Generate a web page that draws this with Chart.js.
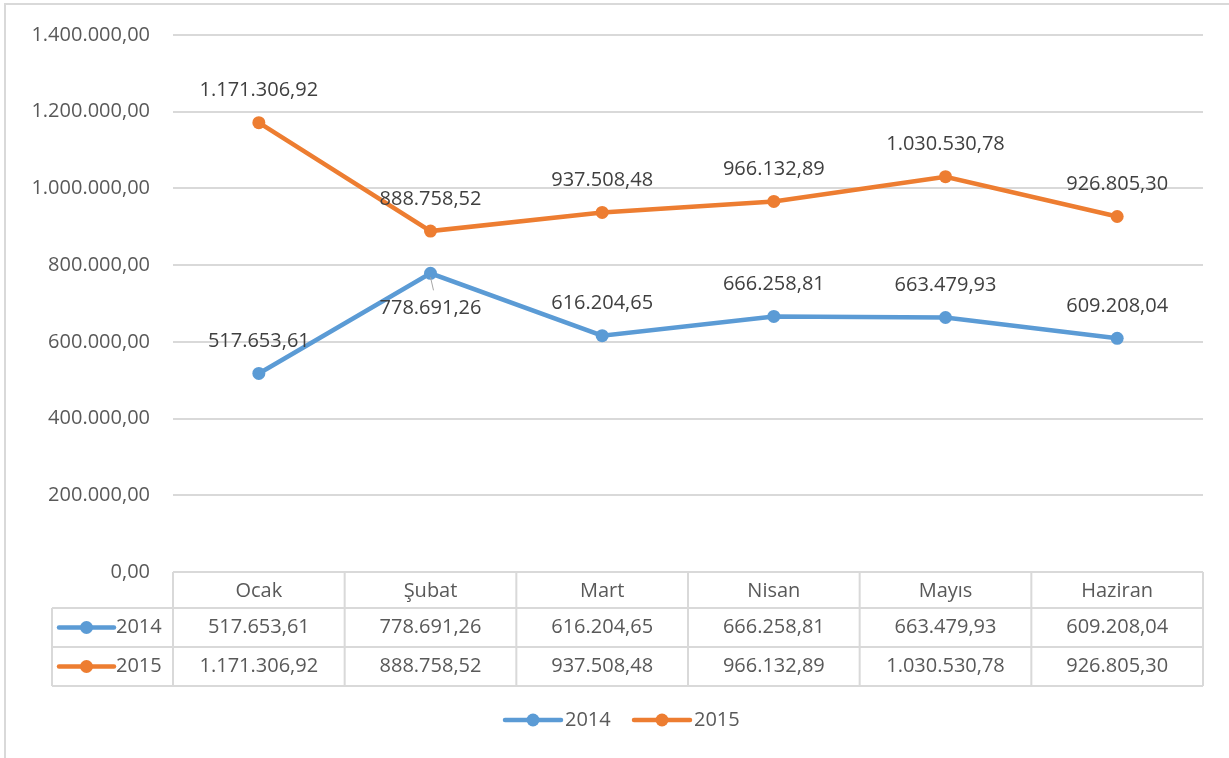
<!DOCTYPE html>
<html lang="tr">
<head>
<meta charset="utf-8">
<title>2014 - 2015 aylık karşılaştırma</title>
<script src="https://cdn.jsdelivr.net/npm/chart.js@4.4.1/dist/chart.umd.min.js"></script>
<style>
  html, body { margin: 0; padding: 0; background: #fff; }
  canvas { display: block; }
</style>
</head>
<body>
<canvas id="chart" width="1229" height="758"></canvas>
<script>
// veriler
const months = ['Ocak', 'Şubat', 'Mart', 'Nisan', 'Mayıs', 'Haziran'];
const seriesNames = ['2014', '2015'];
const values2014 = [517653.61, 778691.26, 616204.65, 666258.81, 663479.93, 609208.04];
const values2015 = [1171306.92, 888758.52, 937508.48, 966132.89, 1030530.78, 926805.30];
const yTicks = [0, 200000, 400000, 600000, 800000, 1000000, 1200000, 1400000];

// etiket yerleşimi (veri değil, yalnız görünüm)
const placement2014 = ['above', 'below', 'above', 'above', 'above', 'above'];
const placement2015 = ['above', 'above', 'above', 'above', 'above', 'above'];

const BLUE = '#5b9bd5';
const ORANGE = '#ed7d31';
const GRID = '#d9d9d9';
const TEXT = '#595959';
const LABEL = '#404040';
const FONT = '"Open Sans", "DejaVu Sans", sans-serif';
const FONT_SIZE = 20;

// Türkçe sayı biçimi: 1.171.306,92
function fmtTR(v) {
  const parts = v.toFixed(2).split('.');
  const intPart = parts[0].replace(/\B(?=(\d{3})+(?!\d))/g, '.');
  return intPart + ',' + parts[1];
}

function drawLegendKey(ctx, x, y, color, len) {
  ctx.save();
  ctx.strokeStyle = color;
  ctx.lineWidth = 4.5;
  ctx.lineCap = 'round';
  ctx.beginPath();
  ctx.moveTo(x, y);
  ctx.lineTo(x + len, y);
  ctx.stroke();
  ctx.fillStyle = color;
  ctx.beginPath();
  ctx.arc(x + len / 2, y, 6.5, 0, Math.PI * 2);
  ctx.fill();
  ctx.restore();
}

// dış çerçeve
const framePlugin = {
  id: 'frame',
  beforeDraw(chart) {
    const ctx = chart.ctx;
    ctx.save();
    ctx.strokeStyle = GRID;
    ctx.lineWidth = 2;
    ctx.beginPath();
    ctx.moveTo(5, chart.height);
    ctx.lineTo(5, 4);
    ctx.lineTo(chart.width, 4);
    ctx.stroke();
    ctx.restore();
  }
};

// nokta üstü/altı değer etiketleri
const valueLabelPlugin = {
  id: 'valueLabels',
  afterDatasetsDraw(chart) {
    const ctx = chart.ctx;
    ctx.save();
    ctx.font = FONT_SIZE + 'px ' + FONT;
    ctx.fillStyle = LABEL;
    ctx.textAlign = 'center';
    ctx.textBaseline = 'middle';
    chart.data.datasets.forEach((ds, di) => {
      const meta = chart.getDatasetMeta(di);
      const place = ds.placement;
      meta.data.forEach((pt, i) => {
        const text = fmtTR(ds.data[i]);
        if (place[i] === 'below') {
          ctx.save();
          ctx.strokeStyle = '#a6a6a6';
          ctx.lineWidth = 1;
          ctx.beginPath();
          ctx.moveTo(pt.x, pt.y + 4);
          ctx.lineTo(pt.x + 3, pt.y + 17);
          ctx.stroke();
          ctx.restore();
          ctx.fillText(text, pt.x, pt.y + 35);
        } else {
          ctx.fillText(text, pt.x, pt.y - 32);
        }
      });
    });
    ctx.restore();
  }
};

// veri tablosu + alt açıklama
const dataTablePlugin = {
  id: 'dataTable',
  afterDraw(chart) {
    const ctx = chart.ctx;
    const xs = chart.scales.x;
    const area = chart.chartArea;
    const colW = (area.right - area.left) / months.length;
    const top = area.bottom;
    const rowH = [36, 39, 39];
    const y1 = top + rowH[0];
    const y2 = y1 + rowH[1];
    const y3 = y2 + rowH[2];
    const keyLeft = 52;

    ctx.save();
    ctx.strokeStyle = GRID;
    ctx.lineWidth = 2;
    ctx.beginPath();
    // yatay çizgiler
    ctx.moveTo(area.left, top); ctx.lineTo(area.right, top);
    [y1, y2, y3].forEach(y => { ctx.moveTo(keyLeft, y); ctx.lineTo(area.right, y); });
    // dikey çizgiler
    for (let i = 0; i <= months.length; i++) {
      const x = area.left + i * colW;
      ctx.moveTo(x, top); ctx.lineTo(x, y3);
    }
    ctx.moveTo(keyLeft, y1); ctx.lineTo(keyLeft, y3);
    ctx.stroke();

    ctx.font = FONT_SIZE + 'px ' + FONT;
    ctx.fillStyle = TEXT;
    ctx.textAlign = 'center';
    ctx.textBaseline = 'middle';
    months.forEach((m, i) => {
      const cx = xs.getPixelForValue(i);
      ctx.fillText(m, cx, top + rowH[0] / 2 + 1);
    });
    const rowsY = [y1 + rowH[1] / 2, y2 + rowH[2] / 2];
    chart.data.datasets.forEach((ds, di) => {
      ds.data.forEach((v, i) => {
        ctx.fillText(fmtTR(v), xs.getPixelForValue(i), rowsY[di]);
      });
      drawLegendKey(ctx, keyLeft + 7, rowsY[di], ds.borderColor, 55);
      ctx.textAlign = 'left';
      ctx.fillText(ds.label, keyLeft + 64, rowsY[di]);
      ctx.textAlign = 'center';
    });

    // alt açıklama
    const legY = 720;
    let lx = 505;
    ctx.textAlign = 'left';
    chart.data.datasets.forEach(ds => {
      drawLegendKey(ctx, lx, legY, ds.borderColor, 56);
      ctx.fillText(ds.label, lx + 60, legY);
      lx += 129;
    });
    ctx.restore();
  }
};

new Chart(document.getElementById('chart'), {
  type: 'line',
  data: {
    labels: months,
    datasets: [
      {
        label: seriesNames[0],
        data: values2014,
        placement: placement2014,
        borderColor: BLUE,
        backgroundColor: BLUE,
        borderWidth: 4.5,
        pointRadius: 6.5,
        pointBorderWidth: 0,
        pointBackgroundColor: BLUE,
        tension: 0
      },
      {
        label: seriesNames[1],
        data: values2015,
        placement: placement2015,
        borderColor: ORANGE,
        backgroundColor: ORANGE,
        borderWidth: 4.5,
        pointRadius: 6.5,
        pointBorderWidth: 0,
        pointBackgroundColor: ORANGE,
        tension: 0
      }
    ]
  },
  options: {
    responsive: false,
    animation: false,
    layout: { padding: { left: 0, right: 26, top: 33, bottom: 186 } },
    plugins: {
      legend: { display: false },
      tooltip: { enabled: false }
    },
    scales: {
      x: { display: false, offset: true },
      y: {
        min: yTicks[0],
        max: yTicks[yTicks.length - 1],
        afterFit(scale) { scale.width = 173; },
        afterBuildTicks(scale) { scale.ticks = yTicks.map(v => ({ value: v })); },
        border: { display: false },
        grid: { color: GRID, lineWidth: 2, drawTicks: false },
        ticks: {
          padding: 23,
          color: TEXT,
          font: { family: FONT, size: FONT_SIZE },
          callback: v => fmtTR(v)
        }
      }
    }
  },
  plugins: [framePlugin, valueLabelPlugin, dataTablePlugin]
});
</script>
</body>
</html>
